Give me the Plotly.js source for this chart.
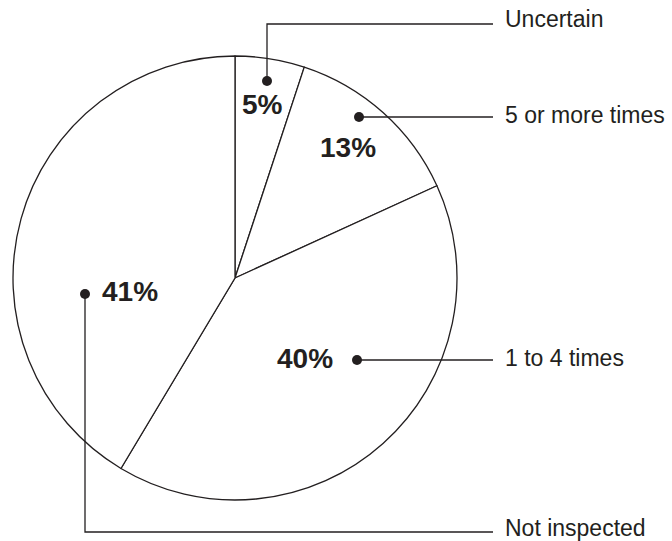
<!DOCTYPE html>
<html>
<head>
<meta charset="utf-8">
<script src="https://cdn.plot.ly/plotly-3.0.1.min.js"></script>
<style>html,body{margin:0;padding:0;background:#fff;}#chart{width:672px;height:541px;}</style>
</head>
<body>
<div id="chart"></div>
<script>
// ---- data ----
const categories = ["Uncertain", "5 or more times", "1 to 4 times", "Not inspected"];
const values = [5, 13, 40, 41];
const pctLabels = ["5%", "13%", "40%", "41%"];

// ---- layout helpers (pixel -> paper) ----
const W = 672, H = 541;
const px = x => x / W;
const py = y => 1 - y / H;
const INK = "#231f20";

// pie geometry (pixels)
const cx = 235, cy = 278, R = 222;

// label / leader placement (pixels): dot, leader path, label position, percent text position
const guides = [
  {dot: [267, 81],  path: [[267, 81], [267, 24], [493, 24]],   label: [503, 19],  pct: [262, 104]},
  {dot: [359, 117], path: [[359, 117], [493, 117]],            label: [503, 115], pct: [348, 147]},
  {dot: [357, 360], path: [[357, 360], [493, 360]],            label: [503, 358], pct: [305, 358]},
  {dot: [85, 294],  path: [[85, 294], [85, 532], [493, 532]],  label: [503, 528], pct: [130, 291]}
];

const trace = {
  type: "pie",
  labels: categories,
  values: values,
  sort: false,
  direction: "clockwise",
  rotation: 0,
  textinfo: "none",
  hoverinfo: "none",
  showlegend: false,
  marker: {colors: categories.map(() => "#ffffff"), line: {color: INK, width: 1.3}},
  domain: {x: [px(cx - R), px(cx + R)], y: [py(cy + R), py(cy - R)]}
};

const shapes = [];
const annotations = [];
guides.forEach((g, i) => {
  const d = "M " + g.path.map(p => px(p[0]) + "," + py(p[1])).join(" L ");
  shapes.push({type: "path", xref: "paper", yref: "paper", path: d, line: {color: INK, width: 1.3}});
  const r = 5;
  shapes.push({type: "circle", xref: "paper", yref: "paper",
    x0: px(g.dot[0] - r), x1: px(g.dot[0] + r), y0: py(g.dot[1] + r), y1: py(g.dot[1] - r),
    fillcolor: INK, line: {color: INK, width: 0}});
  annotations.push({xref: "paper", yref: "paper", x: px(g.label[0]), y: py(g.label[1]),
    xanchor: "left", yanchor: "middle", showarrow: false, text: categories[i],
    font: {family: "Liberation Sans, Arial, sans-serif", size: 23, color: INK}});
  annotations.push({xref: "paper", yref: "paper", x: px(g.pct[0]), y: py(g.pct[1]),
    xanchor: "center", yanchor: "middle", showarrow: false, text: "<b>" + pctLabels[i] + "</b>",
    font: {family: "Liberation Sans, Arial, sans-serif", size: 28, color: INK}});
});

const layout = {
  width: W, height: H,
  margin: {l: 0, r: 0, t: 0, b: 0},
  paper_bgcolor: "#ffffff",
  plot_bgcolor: "#ffffff",
  shapes: shapes,
  annotations: annotations
};

Plotly.newPlot("chart", [trace], layout, {displayModeBar: false, staticPlot: true});
</script>
</body>
</html>
